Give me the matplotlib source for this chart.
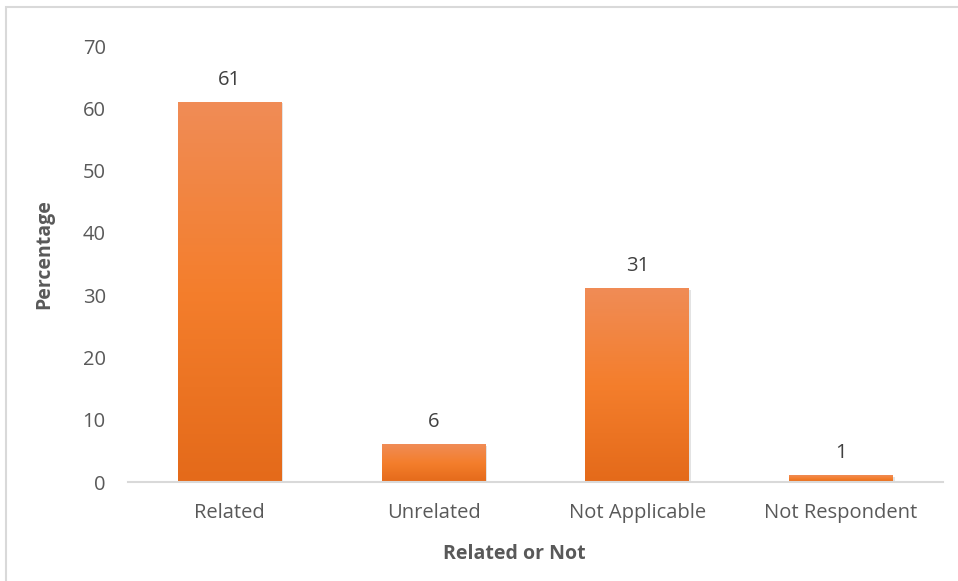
import numpy as np
import matplotlib
matplotlib.use("Agg")
import matplotlib.pyplot as plt
from matplotlib.colors import LinearSegmentedColormap
from matplotlib.patches import Rectangle

categories = ["Related", "Unrelated", "Not Applicable", "Not Respondent"]
values = [61, 6, 31, 1]
yticks = [0, 10, 20, 30, 40, 50, 60, 70]

plt.rcParams['font.family'] = ['Open Sans', 'DejaVu Sans']
W, H = 958, 581
fig = plt.figure(figsize=(W / 100, H / 100), dpi=100)
fig.patch.set_facecolor('white')

# outer frame
fig.patches.append(Rectangle((6 / W, -0.05), 1.1, (H - 6.5) / H + 0.05, transform=fig.transFigure,
                             fill=False, edgecolor='#d9d9d9', linewidth=1.5))

ax = fig.add_axes([128 / W, (H - 482) / H, (943 - 128) / W, (482 - 46) / H])
x = np.arange(len(categories))
ax.set_xlim(-0.5, len(categories) - 0.5)
ax.set_ylim(0, 70)

cmap = LinearSegmentedColormap.from_list('og', ['#E46A1A', '#F47E2C', '#F08C56'])
grad = np.linspace(0, 1, 256).reshape(-1, 1)
bw = 0.51
for xi, v in zip(x, values):
    ax.add_patch(Rectangle((xi - bw / 2 + 0.008, 0), bw, v - 0.15, facecolor='#c8c8c8', alpha=0.5,
                           edgecolor='none', zorder=1))
    ax.imshow(grad, cmap=cmap, origin='lower', aspect='auto',
              extent=(xi - bw / 2, xi + bw / 2, 0, v), zorder=2)
    ax.text(xi, v + 2.0, str(v), ha='center', va='bottom', fontsize=14.5, color='#404040')

ax.set_xticks(x)
ax.set_xticklabels(categories, fontsize=14.5, color='#595959')
ax.set_yticks(yticks)
ax.set_yticklabels([str(t) for t in yticks], fontsize=14.5, color='#595959')
ax.tick_params(axis='both', length=0)
ax.tick_params(axis='x', pad=15)
ax.tick_params(axis='y', pad=16)
for s in ['top', 'right', 'left']:
    ax.spines[s].set_visible(False)
ax.spines['bottom'].set_color('#d9d9d9')
ax.spines['bottom'].set_linewidth(1.5)
ax.spines['bottom'].set_zorder(3)

fig.text(514 / W, 1 - 554 / H, 'Related or Not', fontsize=14, fontweight='bold', color='#595959',
         ha='center', va='center')
fig.text(44 / W, 1 - 254 / H, 'Percentage', fontsize=14, fontweight='bold', color='#595959',
         ha='center', va='center', rotation=90)

fig.savefig('out.png', dpi=100)
